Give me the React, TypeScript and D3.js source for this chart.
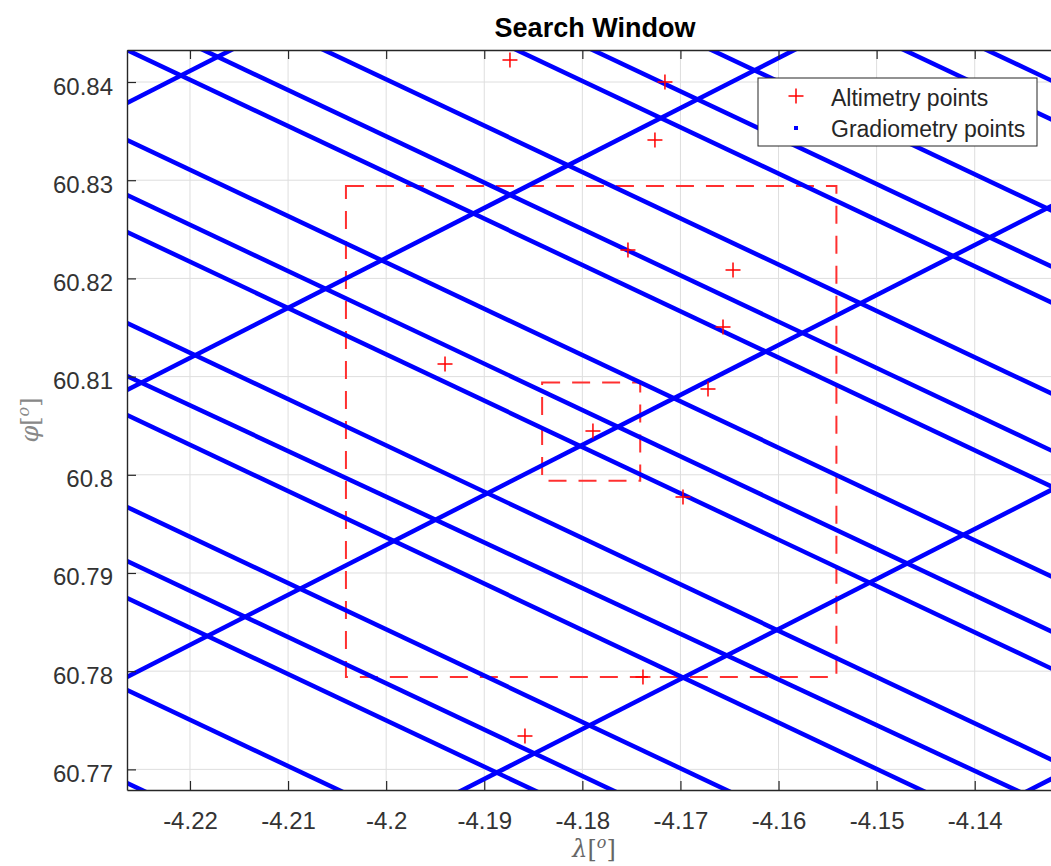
import React, { useEffect, useRef } from "react";
import * as d3 from "d3";

// gradiometry tracks, each [lonStart, latStart, lonEnd, latEnd]
const descendingTracks: number[][] = [
  [-4.22642, 60.88461, -4.131, 60.83959],
  [-4.22642, 60.88064, -4.131, 60.83562],
  [-4.22642, 60.87137, -4.131, 60.82636],
  [-4.22642, 60.86566, -4.131, 60.82065],
  [-4.22642, 60.862, -4.131, 60.81699],
  [-4.22642, 60.85273, -4.131, 60.80772],
  [-4.22642, 60.84693, -4.131, 60.80191],
  [-4.22642, 60.84326, -4.131, 60.79825],
  [-4.22642, 60.83409, -4.131, 60.78908],
  [-4.22642, 60.82849, -4.131, 60.78348],
  [-4.22642, 60.82473, -4.131, 60.77971],
  [-4.22642, 60.81546, -4.131, 60.77044],
  [-4.22642, 60.81006, -4.131, 60.76566],
  [-4.22642, 60.80609, -4.131, 60.76108],
  [-4.22642, 60.79672, -4.131, 60.75171],
  [-4.22642, 60.79122, -4.131, 60.74621],
  [-4.22642, 60.78745, -4.131, 60.74244],
  [-4.22642, 60.77808, -4.131, 60.73307],
  [-4.22642, 60.76861, -4.131, 60.7236],
];
const ascendingTracks: number[][] = [
  [-4.22642, 60.83786, -4.131, 60.88644],
  [-4.22642, 60.80863, -4.131, 60.85721],
  [-4.22642, 60.77941, -4.131, 60.82798],
  [-4.22642, 60.75048, -4.131, 60.79906],
  [-4.22642, 60.72105, -4.131, 60.76963],
];

// altimetry points
const altLon = [-4.18738, -4.17158, -4.1726, -4.17535, -4.16464, -4.16566, -4.194, -4.16719, -4.17892, -4.16974, -4.17382, -4.18585];
const altLat = [60.84224, 60.84, 60.83409, 60.82289, 60.82086, 60.81505, 60.81128, 60.80874, 60.80446, 60.79774, 60.77941, 60.7734];

// search windows around the centre point
const windowCenter = [-4.1791, 60.8044];
const windowHalfSizes = [0.025, 0.005];

const xTicks = [-4.22, -4.21, -4.2, -4.19, -4.18, -4.17, -4.16, -4.15, -4.14];
const yTicks = [60.77, 60.78, 60.79, 60.8, 60.81, 60.82, 60.83, 60.84];
const xDomain = [-4.22642, -4.131];
const yDomain = [60.7679, 60.84326];

const FONT = "'Liberation Sans', Arial, Helvetica, sans-serif";
const AXIS_COLOR = "#262626";

function SearchWindow() {
  const ref = useRef<SVGSVGElement>(null);

  useEffect(() => {
    const svg = d3.select(ref.current);
    svg.selectAll("*").remove();

    const margin = { top: 50, left: 127 };
    const width = 936, height = 740;

    const x = d3.scaleLinear().domain(xDomain).range([0, width]);
    const y = d3.scaleLinear().domain(yDomain).range([height, 0]);
    const fmt = (d: any) => String(+(+d).toFixed(2));

    svg.append("defs").append("clipPath").attr("id", "plotclip")
      .append("rect").attr("width", width).attr("height", height);

    const chart = svg.append("g")
      .attr("transform", "translate(" + margin.left + "," + margin.top + ")");

    // grid
    const grid = chart.append("g");
    grid.selectAll(".gx").data(xTicks).enter().append("line")
      .attr("x1", d => x(d)).attr("x2", d => x(d)).attr("y1", 0).attr("y2", height)
      .attr("stroke", "#dedede").attr("stroke-width", 1);
    grid.selectAll(".gy").data(yTicks).enter().append("line")
      .attr("y1", d => y(d)).attr("y2", d => y(d)).attr("x1", 0).attr("x2", width)
      .attr("stroke", "#dedede").attr("stroke-width", 1);

    const plot = chart.append("g").attr("clip-path", "url(#plotclip)");

    // search windows (dashed)
    windowHalfSizes.forEach(h => {
      plot.append("rect")
        .attr("x", x(windowCenter[0] - h))
        .attr("y", y(windowCenter[1] + h))
        .attr("width", x(windowCenter[0] + h) - x(windowCenter[0] - h))
        .attr("height", y(windowCenter[1] - h) - y(windowCenter[1] + h))
        .attr("fill", "none")
        .attr("stroke", "#ff3030")
        .attr("stroke-width", 2)
        .attr("stroke-dasharray", "18,12");
    });

    // gradiometry tracks
    const line = d3.line<number[]>().x(d => x(d[0])).y(d => y(d[1]));
    const tracks = descendingTracks.concat(ascendingTracks);
    plot.selectAll(".track").data(tracks).enter().append("path")
      .attr("d", t => line([[t[0], t[1]], [t[2], t[3]]]))
      .attr("fill", "none")
      .attr("stroke", "#0000ff")
      .attr("stroke-width", 4.5);

    // altimetry points
    plot.selectAll(".alt").data(altLon).enter().append("path")
      .attr("transform", (d, i) => "translate(" + x(d) + "," + y(altLat[i]) + ")")
      .attr("d", "M-7.5,0H7.5M0,-7.5V7.5")
      .attr("stroke", "#ff0000")
      .attr("stroke-width", 1.5)
      .attr("fill", "none");

    // axes
    const styleAxis = (g: any) => {
      g.attr("font-family", FONT).attr("font-size", 24);
      g.select(".domain").attr("stroke", AXIS_COLOR).attr("stroke-width", 1.4);
      g.selectAll(".tick line").attr("stroke", AXIS_COLOR).attr("stroke-width", 1.2);
      g.selectAll(".tick text").attr("fill", "#333");
    };

    chart.append("g")
      .attr("transform", "translate(0," + height + ")")
      .call(d3.axisBottom(x).tickValues(xTicks).tickSizeInner(-9).tickSizeOuter(0).tickPadding(22).tickFormat(fmt))
      .call(styleAxis);

    chart.append("g")
      .call(d3.axisTop(x).tickValues(xTicks).tickSizeInner(-9).tickSizeOuter(0).tickFormat(() => ""))
      .call(styleAxis);

    const yAxisG = chart.append("g")
      .call(d3.axisLeft(y).tickValues(yTicks).tickSizeInner(-9).tickSizeOuter(0).tickPadding(14).tickFormat(fmt))
      .call(styleAxis);
    yAxisG.selectAll(".tick text").attr("dy", "0.5em");

    // title
    svg.append("text")
      .attr("x", 595).attr("y", 37)
      .attr("text-anchor", "middle")
      .attr("font-family", FONT).attr("font-size", 27).attr("font-weight", "bold")
      .attr("fill", "#000")
      .text("Search Window");

    // x label
    const xl = svg.append("text")
      .attr("x", 594).attr("y", 857)
      .attr("text-anchor", "middle")
      .attr("font-family", "'DejaVu Serif', serif").attr("font-size", 24)
      .attr("fill", "#666");
    xl.append("tspan").attr("font-style", "italic").text("λ");
    xl.append("tspan").text("[");
    xl.append("tspan").attr("font-style", "italic").attr("font-size", 16).attr("dy", -9).text("o");
    xl.append("tspan").attr("dy", 9).text("]");

    // y label
    const yl = svg.append("text")
      .attr("transform", "translate(38,420) rotate(-90)")
      .attr("text-anchor", "middle")
      .attr("font-family", "'DejaVu Serif', serif").attr("font-size", 24)
      .attr("fill", "#888");
    yl.append("tspan").attr("font-style", "italic").text("φ");
    yl.append("tspan").text("[");
    yl.append("tspan").attr("font-style", "italic").attr("font-size", 16).attr("dy", -9).text("o");
    yl.append("tspan").attr("dy", 9).text("]");

    // legend
    const legend = svg.append("g").attr("transform", "translate(758,78)");
    legend.append("rect")
      .attr("width", 279).attr("height", 68)
      .attr("fill", "#fff").attr("stroke", AXIS_COLOR).attr("stroke-width", 1);
    legend.append("path")
      .attr("transform", "translate(38,18)")
      .attr("d", "M-7.5,0H7.5M0,-7.5V7.5")
      .attr("stroke", "#ff0000").attr("stroke-width", 1.5);
    legend.append("rect")
      .attr("x", 36).attr("y", 48).attr("width", 4).attr("height", 4)
      .attr("fill", "#0000ff");
    legend.append("text")
      .attr("x", 73).attr("y", 28)
      .attr("font-family", FONT).attr("font-size", 23).attr("fill", AXIS_COLOR)
      .text("Altimetry points");
    legend.append("text")
      .attr("x", 73).attr("y", 59)
      .attr("font-family", FONT).attr("font-size", 23).attr("fill", AXIS_COLOR)
      .text("Gradiometry points");
  }, []);

  return <svg ref={ref} width={1051} height={866} style={{ display: "block" }} />;
}

export default function App() {
  return (
    <div style={{ position: "absolute", left: 0, top: 0, width: 1051, height: 866, overflow: "hidden", background: "#fff" }}>
      <SearchWindow />
    </div>
  );
}
